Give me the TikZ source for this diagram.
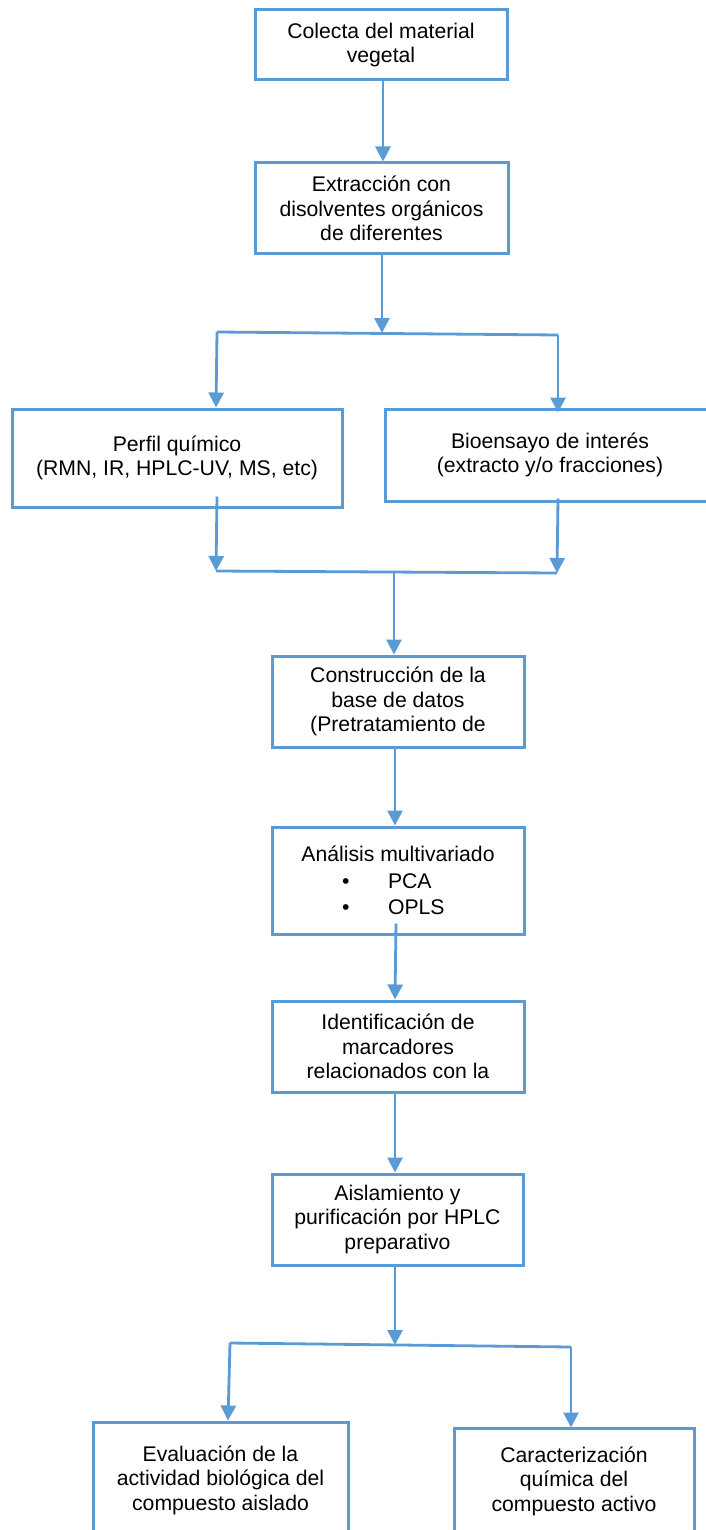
\documentclass[tikz,border=0pt]{standalone}
\usepackage{fontspec}
\setmainfont{Liberation Sans}
\usetikzlibrary{arrows.meta}
\definecolor{flowblue}{HTML}{5B9BD5}
\tikzset{
  box/.style={draw=flowblue, line width=3pt, inner sep=0pt, align=center,
    font=\fontsize{21.2}{24.5}\selectfont, text=black},
  link/.style={draw=flowblue, line width=2.8pt},
  arr/.style={link, -{Triangle[width=15pt,length=15pt]}}
}
\begin{document}
\begin{tikzpicture}[x=1pt,y=-1pt]
\useasboundingbox (0,0) rectangle (706,1530);
\clip (0,0) rectangle (706,1530);
\fill[white] (0,0) rectangle (706,1530);
% boxes
\node[box, minimum width=252pt, minimum height=70pt] (b1) at (381,45)
  {Colecta del material\\vegetal};
\node[box, minimum width=253pt, minimum height=91pt] (b2) at (381.5,208.5)
  {Extracción con\\disolventes orgánicos\\de diferentes};
\node[box, minimum width=330pt, minimum height=98pt] (pq) at (177,458)
  {Perfil químico\\(RMN, IR, HPLC-UV, MS, etc)};
\node[box, minimum width=330pt, minimum height=92pt] (bio) at (550,455)
  {Bioensayo de interés\\(extracto y/o fracciones)};
\node[box, minimum width=252pt, minimum height=91pt] (cons) at (398,701.5)
  {Construcción de la\\base de datos\\(Pretratamiento de};
\node[box, minimum width=252pt, minimum height=107pt] (ana) at (398,880.5)
  {Análisis multivariado\\[2pt]
   \makebox[112pt][l]{•\hspace{38.6pt}PCA}\\[2pt]
   \makebox[112pt][l]{•\hspace{38.6pt}OPLS}};
\node[box, minimum width=252pt, minimum height=91pt] (ide) at (398,1046.5)
  {Identificación de\\marcadores\\relacionados con la};
\node[box, minimum width=251pt, minimum height=91pt] (ais) at (397.5,1219.5)
  {Aislamiento y\\purificación por HPLC\\preparativo};
\node[box, minimum width=255pt, minimum height=116pt] (eva) at (220.5,1480)
  {Evaluación de la\\actividad biológica del\\compuesto aislado};
\node[box, minimum width=240pt, minimum height=106pt] (car) at (574,1481)
  {Caracterización\\química del\\compuesto activo};
% junction points
\coordinate (j1) at (382,333);
\coordinate (j1l) at (217,332);
\coordinate (j1r) at (558,335);
\coordinate (m1l) at (216,571);
\coordinate (m1r) at (557,573);
\coordinate (m1) at (394,572);
\coordinate (j2) at (395,1345);
\coordinate (j2l) at (230,1343);
\coordinate (j2r) at (571,1347);
% connectors
\draw[arr] (b1.south -| 383,0) -- (b2.north -| 383,0);
\draw[arr] (b2.south -| j1) -- (j1);
\draw[link] (j1l) -- (j1r);
\draw[arr] (j1l) -- (pq.north -| 216,0);
\draw[arr] (j1r) -- ([yshift=-5pt]bio.north -| j1r);
\draw[arr] ([yshift=12pt]pq.south -| j1l) -- (m1l);
\draw[arr] ([yshift=4pt]bio.south -| j1r) -- (m1r);
\draw[link] (m1l) -- (m1r);
\draw[arr] (m1) -- (cons.north -| m1);
\draw[arr] (cons.south -| 395,0) -- (ana.north -| 395,0);
\draw[arr] ([yshift=12pt]ana.south -| 396,0) -- (ide.north -| 395,0);
\draw[arr] (ide.south -| 395,0) -- (ais.north -| 395,0);
\draw[arr] (ais.south -| j2) -- (j2);
\draw[link] (j2l) -- (j2r);
\draw[arr] (j2l) -- (eva.north -| 228,0);
\draw[arr] (j2r) -- ([yshift=-1pt]car.north -| j2r);
\end{tikzpicture}
\end{document}
